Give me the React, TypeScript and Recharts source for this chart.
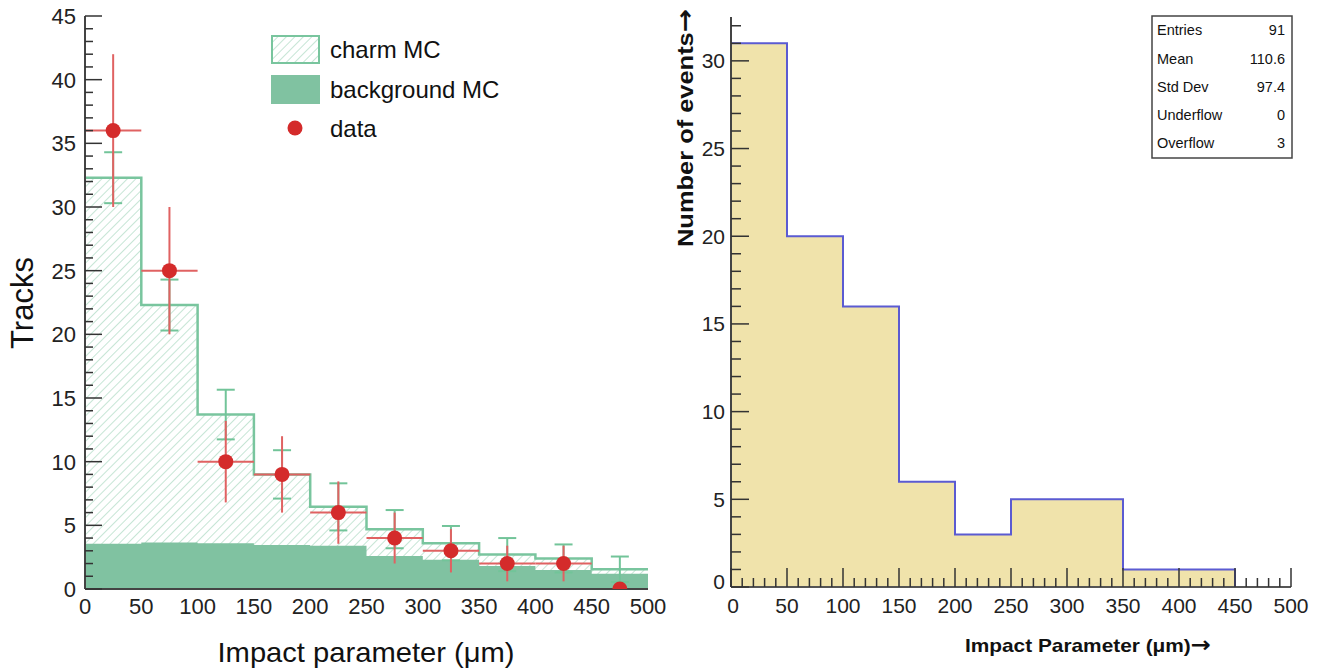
import { Area, ComposedChart, ErrorBar, Scatter, XAxis, YAxis } from "recharts";

// bins in impact parameter (um)
const binEdges = [0, 50, 100, 150, 200, 250, 300, 350, 400, 450, 500];
const binCenters = [25, 75, 125, 175, 225, 275, 325, 375, 425, 475];

// left panel
const charmMC = [32.3, 22.3, 13.7, 9.0, 6.45, 4.7, 3.6, 2.7, 2.4, 1.55];
const charmMCErr = [2.0, 2.0, 1.95, 1.9, 1.85, 1.5, 1.35, 1.3, 1.1, 1.0];
const backgroundMC = [3.55, 3.65, 3.6, 3.45, 3.4, 2.6, 2.3, 1.8, 1.5, 1.2];
const dataCounts = [36, 25, 10, 9, 6, 4, 3, 2, 2, 0];
const dataErr = [6, 5, 3.2, 3, 2.45, 2, 1.7, 1.4, 1.4, 0];

// right panel
const eventCounts = [31, 20, 16, 6, 3, 5, 5, 1, 1, 0];
const statsLabels = ["Entries", "Mean", "Std Dev", "Underflow", "Overflow"];
const statsValues = ["91", "110.6", "97.4", "0", "3"];

const xLabels = [0, 50, 100, 150, 200, 250, 300, 350, 400, 450, 500];
const leftYLabels = [0, 5, 10, 15, 20, 25, 30, 35, 40, 45];
const rightYLabels = [0, 5, 10, 15, 20, 25, 30];

const legendItems = ["charm MC", "background MC", "data"];

const FONT = "'Liberation Sans', Arial, Helvetica, sans-serif";
const BKG_GREEN = "#80c2a1";
const CHARM_LINE = "#79c59e";
const HATCH = "#a8d7be";
const RED = "#d42b2b";
const RED_BAR = "#e06262";
const MC_ERR = "#72c499";
const YELLOW = "#f0e3ab";
const BLUE = "#5b5bd2";

const range = (from: number, to: number, step: number) => {
  const out: number[] = [];
  for (let v = from; v <= to + 1e-9; v += step) out.push(v);
  return out;
};

const leftSteps = binEdges.map((x, i) => ({
  x,
  charm: charmMC[Math.min(i, charmMC.length - 1)],
  bkg: backgroundMC[Math.min(i, backgroundMC.length - 1)],
}));
const dataPoints = binCenters.map((x, i) => ({ x, y: dataCounts[i], ex: 25, ey: dataErr[i] }));
const mcPoints = binCenters.map((x, i) => ({ x, y: charmMC[i], ey: charmMCErr[i] }));
const rightSteps = binEdges.slice(0, eventCounts.length).map((x, i) => ({ x, n: eventCounts[i] }));

function LeftYTick(props: any) {
  const { x, y, payload } = props;
  const v = payload.value as number;
  const major = leftYLabels.includes(v);
  return (
    <g>
      <line x1={x} x2={x + (major ? 17 : 8)} y1={y} y2={y} stroke="#333" strokeWidth={1.5} />
      {major && (
        <text x={x - 9} y={y} dy="0.36em" textAnchor="end" fontSize={22} fill="#222" fontFamily={FONT}>
          {v}
        </text>
      )}
    </g>
  );
}

function LeftXTick(props: any) {
  const { x, y, payload } = props;
  return (
    <text x={x} y={y + 17} dy="0.36em" textAnchor="middle" fontSize={22} fill="#222" fontFamily={FONT}>
      {payload.value}
    </text>
  );
}

function RightYTick(props: any) {
  const { x, y, payload } = props;
  const v = payload.value as number;
  const major = rightYLabels.includes(v);
  return (
    <g>
      <line x1={x} x2={x + (major ? 18 : 10)} y1={y} y2={y} stroke="#333" strokeWidth={1.5} />
      {major && (
        <text x={x - 6} y={v === 0 ? y - 6 : y} dy="0.36em" textAnchor="end" fontSize={21} fill="#222" fontFamily={FONT}>
          {v}
        </text>
      )}
    </g>
  );
}

function RightXTick(props: any) {
  const { x, y, payload } = props;
  const v = payload.value as number;
  const major = xLabels.includes(v);
  return (
    <g>
      <line x1={x} x2={x} y1={y} y2={y - (major ? 19 : 9)} stroke="#333" strokeWidth={1.5} />
      {major && (
        <text x={v === 0 ? x + 2 : x} y={y + 18} dy="0.36em" textAnchor="middle" fontSize={21} fill="#222" fontFamily={FONT}>
          {v}
        </text>
      )}
    </g>
  );
}

const noDot = () => <g />;
const redDot = (p: any) => <circle cx={p.cx} cy={p.cy} r={7.5} fill={RED} />;

function LeftPanel() {
  return (
    <ComposedChart
      width={700}
      height={670}
      data={leftSteps}
      margin={{ top: 16, right: 52, bottom: 51, left: 25 }}
      style={{ position: "absolute", left: 0, top: 0 }}
    >
      <defs>
        <pattern id="hatch" patternUnits="userSpaceOnUse" width={6} height={6} patternTransform="rotate(45)">
          <rect width={6} height={6} fill="#fff" />
          <line x1={0} y1={0} x2={0} y2={6} stroke={HATCH} strokeWidth={1.3} />
        </pattern>
      </defs>
      <XAxis
        dataKey="x"
        type="number"
        domain={[0, 500]}
        ticks={xLabels}
        interval={0}
        height={30}
        tickSize={0}
        tickMargin={0}
        tickLine={false}
        tick={<LeftXTick />}
        axisLine={{ stroke: "#444", strokeWidth: 2 }}
      />
      <XAxis xAxisId="top" orientation="top" type="number" domain={[0, 500]} height={0} tick={false} tickLine={false} axisLine={{ stroke: "#666", strokeWidth: 2 }} />
      <YAxis
        dataKey="y"
        type="number"
        domain={[0, 45]}
        allowDataOverflow
        ticks={range(0, 45, 1)}
        interval={0}
        width={60}
        tickSize={0}
        tickMargin={0}
        tickLine={false}
        tick={<LeftYTick />}
        axisLine={{ stroke: "#444", strokeWidth: 2 }}
      />
      <YAxis yAxisId="right" orientation="right" type="number" domain={[0, 45]} width={0} tick={false} tickLine={false} axisLine={{ stroke: "#aaa", strokeWidth: 2 }} />
      <Area
        dataKey="charm"
        type="stepAfter"
        fill="url(#hatch)"
        fillOpacity={1}
        stroke={CHARM_LINE}
        strokeWidth={2.5}
        dot={false}
        activeDot={false}
        isAnimationActive={false}
      />
      <Area
        dataKey="bkg"
        type="stepAfter"
        fill={BKG_GREEN}
        fillOpacity={1}
        stroke="none"
        dot={false}
        activeDot={false}
        isAnimationActive={false}
      />
      <Scatter data={mcPoints} shape={noDot} isAnimationActive={false}>
        <ErrorBar dataKey="ey" direction="y" width={9} stroke={MC_ERR} strokeWidth={2} />
      </Scatter>
      <Scatter data={dataPoints} shape={redDot} isAnimationActive={false}>
        <ErrorBar dataKey="ey" direction="y" width={0} stroke={RED_BAR} strokeWidth={2} />
        <ErrorBar dataKey="ex" direction="x" width={0} stroke={RED_BAR} strokeWidth={2} />
      </Scatter>
    </ComposedChart>
  );
}

function RightPanel() {
  return (
    <ComposedChart
      width={668}
      height={670}
      data={rightSteps}
      margin={{ top: 17, right: 37, bottom: 53, left: 21 }}
      style={{ position: "absolute", left: 660, top: 0 }}
    >
      <XAxis
        dataKey="x"
        type="number"
        domain={[0, 500]}
        ticks={range(0, 500, 10)}
        interval={0}
        height={30}
        tickSize={0}
        tickMargin={0}
        tickLine={false}
        tick={<RightXTick />}
        axisLine={{ stroke: "#555", strokeWidth: 2 }}
      />
      <XAxis xAxisId="top" orientation="top" type="number" domain={[0, 500]} height={0} tick={false} tickLine={false} axisLine={{ stroke: "#777", strokeWidth: 2 }} />
      <YAxis
        type="number"
        domain={[0, 32.5]}
        allowDataOverflow
        ticks={range(0, 32, 1)}
        interval={0}
        width={50}
        tickSize={0}
        tickMargin={0}
        tickLine={false}
        tick={<RightYTick />}
        axisLine={{ stroke: "#444", strokeWidth: 2 }}
      />
      <YAxis yAxisId="right" orientation="right" type="number" domain={[0, 32.5]} width={0} tick={false} tickLine={false} axisLine={{ stroke: "#aaa", strokeWidth: 2 }} />
      <Area
        dataKey="n"
        type="stepAfter"
        fill={YELLOW}
        fillOpacity={1}
        stroke={BLUE}
        strokeWidth={2}
        dot={false}
        activeDot={false}
        isAnimationActive={false}
      />
    </ComposedChart>
  );
}

function Overlay() {
  return (
    <svg width={1328} height={670} style={{ position: "absolute", left: 0, top: 0, pointerEvents: "none" }}>
      <defs>
        <pattern id="hatchLegend" patternUnits="userSpaceOnUse" width={6} height={6} patternTransform="rotate(45)">
          <rect width={6} height={6} fill="#fff" />
          <line x1={0} y1={0} x2={0} y2={6} stroke={HATCH} strokeWidth={1.3} />
        </pattern>
      </defs>
      {/* legend, left panel */}
      <rect x={272} y={36} width={47} height={27} fill="url(#hatchLegend)" stroke={CHARM_LINE} strokeWidth={2} />
      <rect x={271} y={75} width={49} height={29} fill={BKG_GREEN} />
      <circle cx={295} cy={128} r={7.5} fill={RED} />
      {legendItems.map((t, i) => (
        <text key={t} x={330} y={[49, 89, 128][i]} dy="0.36em" fontSize={24} fill="#111" fontFamily={FONT}>
          {t}
        </text>
      ))}
      {/* axis titles */}
      <text x={33} y={303} transform="rotate(-90 33 303)" textAnchor="middle" fontSize={31} fill="#111" fontFamily={FONT}>
        Tracks
      </text>
      <text x={366} y={662} textAnchor="middle" fontSize={28} fill="#111" fontFamily={FONT} textLength={297} lengthAdjust="spacingAndGlyphs">
        Impact parameter (μm)
      </text>
      <text
        x={693}
        y={128}
        transform="rotate(-90 693 128)"
        textAnchor="middle"
        fontSize={22}
        fontWeight="bold"
        fill="#111"
        fontFamily={FONT}
        textLength={238}
        lengthAdjust="spacingAndGlyphs"
      >
        Number of events<tspan fontFamily="'DejaVu Sans', sans-serif" fontSize={24}>→</tspan>
      </text>
      <text x={1088} y={652} textAnchor="middle" fontSize={19} fontWeight="bold" fill="#111" fontFamily={FONT} textLength={246} lengthAdjust="spacingAndGlyphs">
        Impact Parameter (μm)<tspan fontFamily="'DejaVu Sans', sans-serif" fontSize={22}>→</tspan>
      </text>
      {/* stats box, right panel */}
      <rect x={1152} y={16} width={140} height={142} fill="#fff" stroke="#444" strokeWidth={1.5} />
      {statsLabels.map((t, i) => (
        <g key={t}>
          <text x={1157} y={30 + i * 28.3} dy="0.36em" fontSize={14.5} fill="#111" fontFamily={FONT}>
            {t}
          </text>
          <text x={1285} y={30 + i * 28.3} dy="0.36em" textAnchor="end" fontSize={14.5} fill="#111" fontFamily={FONT}>
            {statsValues[i]}
          </text>
        </g>
      ))}
    </svg>
  );
}

export default function App() {
  return (
    <div style={{ position: "absolute", left: 0, top: 0, width: 1328, height: 670, background: "#fff" }}>
      <LeftPanel />
      <RightPanel />
      <Overlay />
    </div>
  );
}
